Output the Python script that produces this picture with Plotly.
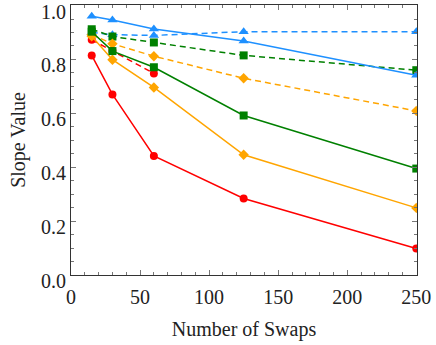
import plotly.graph_objects as go

swaps = [15, 30, 60, 125, 250]
swaps_short = [15, 30, 60]

red_solid = [0.815, 0.670, 0.442, 0.284, 0.098]
red_dashed = [0.873, 0.831, 0.748]
orange_solid = [0.886, 0.799, 0.696, 0.446, 0.249]
orange_dashed = [0.892, 0.858, 0.812, 0.730, 0.609]
green_solid = [0.903, 0.831, 0.771, 0.592, 0.395]
green_dashed = [0.912, 0.885, 0.863, 0.815, 0.760]
blue_solid = [0.960, 0.946, 0.913, 0.868, 0.741]
blue_dashed = [0.900, 0.892, 0.889, 0.903, 0.903]

y_ticks = [0.0, 0.2, 0.4, 0.6, 0.8, 1.0]
x_ticks = [0, 50, 100, 150, 200, 250]

RED = "#ff0000"
ORANGE = "#ffa500"
GREEN = "#008000"
BLUE = "#1e90ff"

series = [
    (swaps, blue_dashed, BLUE, "triangle-up", "6px,4px", 9),
    (swaps, green_dashed, GREEN, "square", "6px,4px", 8),
    (swaps, orange_dashed, ORANGE, "diamond", "6px,4px", 8),
    (swaps_short, red_dashed, RED, "circle", "6px,4px", 8),
    (swaps, blue_solid, BLUE, "triangle-up", "solid", 9),
    (swaps, orange_solid, ORANGE, "diamond", "solid", 8),
    (swaps, green_solid, GREEN, "square", "solid", 8),
    (swaps, red_solid, RED, "circle", "solid", 8),
]

fig = go.Figure()
for xs, ys, col, sym, dash, ms in series:
    fig.add_trace(go.Scatter(
        x=xs, y=ys, mode="lines+markers",
        line=dict(color=col, width=1.5, dash=dash),
        marker=dict(color=col, symbol=sym, size=ms, line=dict(width=0)),
        showlegend=False,
    ))

font_family = "Liberation Serif"
axis_common = dict(
    showgrid=False, zeroline=False,
    showline=True, linecolor="#333333", linewidth=1, mirror="allticks",
    ticks="inside", ticklen=5, tickcolor="#777777", tickwidth=1,
    tickfont=dict(family=font_family, size=20, color="#222222"),
    ticklabeloverflow="allow",
)

fig.update_xaxes(
    range=[0, 250.5], tickmode="array", tickvals=x_ticks,
    minor=dict(ticks="inside", ticklen=3, tick0=0, dtick=10, tickcolor="#777777", showgrid=False),
    title=dict(text="Number of Swaps", font=dict(family=font_family, size=20, color="#222222"), standoff=14),
    ticklabelstandoff=4,
    automargin=False,
    **axis_common,
)
fig.update_yaxes(
    range=[0, 1.002], tickmode="array", tickvals=y_ticks, tickformat=".1f",
    minor=dict(ticks="inside", ticklen=3, tick0=0, dtick=0.05, tickcolor="#777777", showgrid=False),
    title=dict(text="Slope Value", font=dict(family=font_family, size=20, color="#222222"), standoff=10),
    ticklabelshift=6,
    automargin=False,
    **axis_common,
)

fig.update_layout(
    width=436, height=345,
    margin=dict(l=71, r=19, t=5, b=70),
    plot_bgcolor="white", paper_bgcolor="white",
    font=dict(family=font_family),
)

fig.write_html("out.html", config={"displayModeBar": False},
               post_script="document.body.style.margin='0';")
